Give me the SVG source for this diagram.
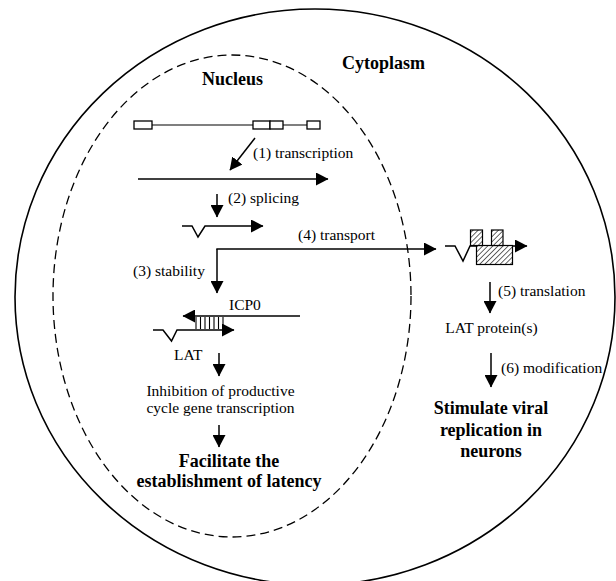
<svg xmlns="http://www.w3.org/2000/svg" width="616" height="581" viewBox="0 0 616 581">
<style>
text{font-family:"Liberation Serif","Times New Roman",serif;fill:#000}
.lbl{font-size:15.5px}
.big{font-size:18px;font-weight:bold}
.ln{fill:none;stroke:#000;stroke-width:1.5}
.arr{fill:none;stroke:#000;stroke-width:1.5;marker-end:url(#ah)}
.box{fill:#fff;stroke:#000;stroke-width:1.3}
.hbox{fill:url(#hatch);stroke:#000;stroke-width:1.2}
</style>
<defs>
<marker id="ah" markerUnits="userSpaceOnUse" markerWidth="13" markerHeight="13" refX="12" refY="6.5" orient="auto">
<path d="M0,0 L12.5,6.5 L0,13 z" fill="#000"/>
</marker>
<pattern id="hatch" patternUnits="userSpaceOnUse" width="3.6" height="3.6" patternTransform="rotate(45)">
<rect width="3.6" height="3.6" fill="#fff"/>
<line x1="0" y1="0" x2="0" y2="3.6" stroke="#000" stroke-width="1.2"/>
</pattern>
</defs>
<rect width="616" height="581" fill="#fff"/>
<g id="cell">
<ellipse cx="315" cy="297" rx="300" ry="288" fill="none" stroke="#000" stroke-width="1.6"/>
<text class="big" x="342" y="69">Cytoplasm</text>
</g>
<g id="nucleus">
<ellipse cx="232" cy="296" rx="179" ry="241" fill="none" stroke="#000" stroke-width="1.3" stroke-dasharray="9 5"/>
<text class="big" x="202" y="85">Nucleus</text>
</g>
<g id="gene">
<line class="ln" x1="152" y1="125" x2="307" y2="125" style="stroke-width:1.2"/>
<rect class="box" x="134" y="121" width="18" height="8"/>
<rect class="box" x="253" y="121" width="17" height="8"/>
<rect class="box" x="270" y="121" width="13" height="8"/>
<rect class="box" x="307" y="121" width="13" height="8"/>
</g>
<g id="transcript">
<line class="arr" x1="138" y1="179" x2="328" y2="179"/>
</g>
<g id="spliced">
<path class="arr" d="M182,226 L192,226 L198,237 L205,226 L263,226"/>
</g>
<g id="duplex">
<line class="arr" x1="300" y1="316" x2="183" y2="316"/>
<path class="arr" d="M153,330 L163,330 L171.5,341 L177,330 L234,330"/>
<path class="ln" style="stroke-width:1.1" d="M196,317V329M200.5,317V329M205,317V329M209.5,317V329M214,317V329M218.5,317V329M223,317V329"/>
<text class="lbl" x="229" y="310">ICP0</text>
<text class="lbl" x="174" y="360">LAT</text>
</g>
<g id="inhibition">
<text class="lbl" x="220.5" y="396" text-anchor="middle">Inhibition of productive</text>
<text class="lbl" x="220.5" y="413" text-anchor="middle">cycle gene transcription</text>
</g>
<g id="latency">
<text class="big" x="229" y="467" text-anchor="middle">Facilitate the</text>
<text class="big" x="229" y="487" text-anchor="middle">establishment of latency</text>
</g>
<g id="cyto-mrna">
<path class="arr" d="M445,246 L455,246 L463,261 L470,246 L527,246"/>
<rect class="hbox" x="476.5" y="245.5" width="36" height="19"/>
<rect class="hbox" x="470.5" y="230" width="12" height="15.5"/>
<rect class="hbox" x="491.5" y="230" width="11.5" height="15.5"/>
</g>
<g id="lat-protein">
<text class="lbl" x="491.5" y="333" text-anchor="middle">LAT protein(s)</text>
</g>
<g id="stimulate">
<text class="big" x="491" y="414" text-anchor="middle">Stimulate viral</text>
<text class="big" x="491" y="435.5" text-anchor="middle">replication in</text>
<text class="big" x="491" y="457" text-anchor="middle">neurons</text>
</g>
<g id="connectors">
<line class="arr" x1="255" y1="138" x2="230" y2="170"/>
<text class="lbl" x="253" y="158">(1) transcription</text>
<line class="arr" x1="217" y1="194" x2="217" y2="217"/>
<text class="lbl" x="228" y="203">(2) splicing</text>
<line class="arr" x1="217" y1="249" x2="217" y2="293"/>
<text class="lbl" x="133" y="276">(3) stability</text>
<line class="arr" x1="216.3" y1="249" x2="436" y2="249"/>
<text class="lbl" x="298" y="240">(4) transport</text>
<line class="arr" x1="219" y1="353" x2="219" y2="376"/>
<line class="arr" x1="219" y1="425" x2="219" y2="447"/>
<line class="arr" x1="490" y1="282" x2="490" y2="313"/>
<text class="lbl" x="498" y="296">(5) translation</text>
<line class="arr" x1="491" y1="353" x2="491" y2="387"/>
<text class="lbl" x="501" y="373">(6) modification</text>
</g>
</svg>
